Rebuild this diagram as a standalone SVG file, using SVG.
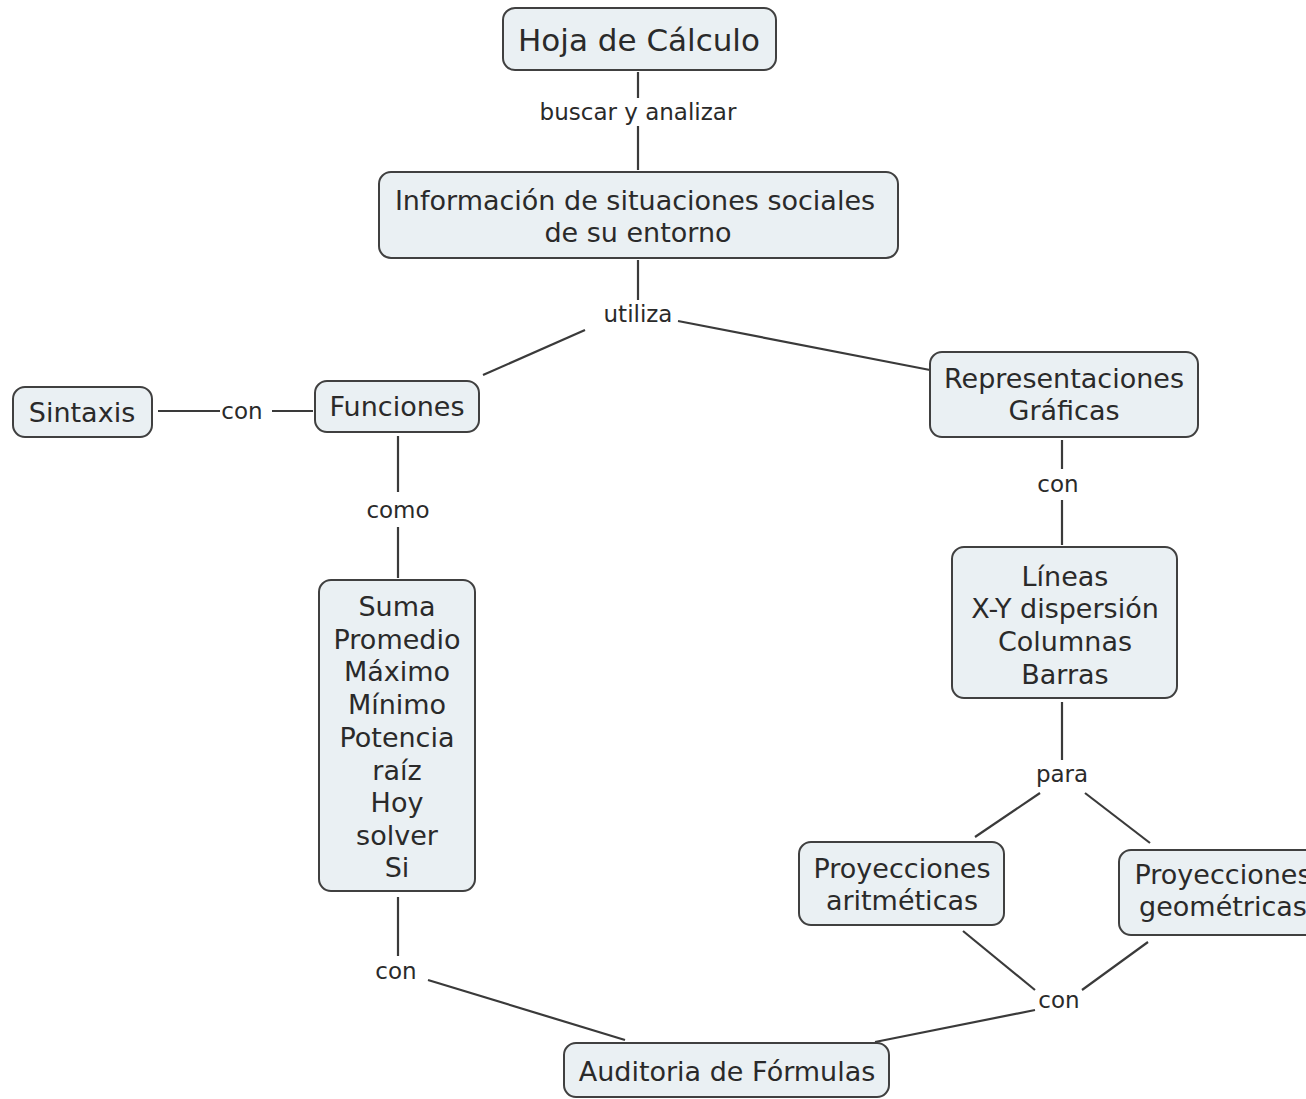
<svg xmlns="http://www.w3.org/2000/svg" width="1306" height="1099" viewBox="0 0 1306 1099">
<style>
.node rect{fill:#eaf0f3;stroke:#404040;stroke-width:2}
.node text{font-family:"DejaVu Sans",Verdana,sans-serif;font-size:27px;fill:#2a2a2a;text-anchor:middle;dominant-baseline:central}
.lbl{font-family:"DejaVu Sans",Verdana,sans-serif;font-size:23px;fill:#2a2a2a;text-anchor:middle;dominant-baseline:central}
.conn line{stroke:#3a3a3a;stroke-width:2.2}
</style>
<rect width="1306" height="1099" fill="#fff"/>
<g id="connectors" class="conn">
<line x1="638" y1="72" x2="638" y2="98"/>
<line x1="638" y1="126" x2="638" y2="170"/>
<line x1="638" y1="260" x2="638" y2="300"/>
<line x1="585" y1="330" x2="483" y2="375"/>
<line x1="678" y1="321" x2="930" y2="370"/>
<line x1="158" y1="411" x2="220" y2="411"/>
<line x1="272" y1="411" x2="313" y2="411"/>
<line x1="398" y1="436" x2="398" y2="492"/>
<line x1="398" y1="527" x2="398" y2="578"/>
<line x1="1062" y1="440" x2="1062" y2="469"/>
<line x1="1062" y1="500" x2="1062" y2="545"/>
<line x1="1062" y1="702" x2="1062" y2="760"/>
<line x1="1040" y1="793" x2="975" y2="837"/>
<line x1="1085" y1="793" x2="1150" y2="843"/>
<line x1="398" y1="897" x2="398" y2="956"/>
<line x1="428" y1="980" x2="625" y2="1040"/>
<line x1="963" y1="931" x2="1035" y2="990"/>
<line x1="1148" y1="942" x2="1082" y2="990"/>
<line x1="1035" y1="1010" x2="875" y2="1042"/>
<text class="lbl" x="638" y="112">buscar y analizar</text>
<text class="lbl" x="638" y="314">utiliza</text>
<text class="lbl" x="242" y="411">con</text>
<text class="lbl" x="398" y="510">como</text>
<text class="lbl" x="1058" y="484">con</text>
<text class="lbl" x="1062" y="774">para</text>
<text class="lbl" x="396" y="971">con</text>
<text class="lbl" x="1059" y="1000">con</text>
</g>
<g id="hoja" class="node"><rect x="503" y="8" width="273" height="62" rx="12"/><text x="639" y="40" style="font-size:31px">Hoja de Cálculo</text></g>
<g id="info" class="node"><rect x="379" y="172" width="519" height="86" rx="12"/><text x="635" y="200">Información de situaciones sociales</text><text x="638" y="232">de su entorno</text></g>
<g id="sintaxis" class="node"><rect x="13" y="387" width="139" height="50" rx="12"/><text x="82" y="412">Sintaxis</text></g>
<g id="funciones" class="node"><rect x="315" y="381" width="164" height="51" rx="12"/><text x="397" y="406">Funciones</text></g>
<g id="representaciones" class="node"><rect x="930" y="352" width="268" height="85" rx="12"/><text x="1064" y="378">Representaciones</text><text x="1064" y="410">Gráficas</text></g>
<g id="lineas" class="node"><rect x="952" y="547" width="225" height="151" rx="12"/><text x="1065" y="576">Líneas</text><text x="1065" y="608">X-Y dispersión</text><text x="1065" y="641">Columnas</text><text x="1065" y="674">Barras</text></g>
<g id="suma" class="node"><rect x="319" y="580" width="156" height="311" rx="12"/><text x="397" y="606">Suma</text><text x="397" y="639">Promedio</text><text x="397" y="671">Máximo</text><text x="397" y="704">Mínimo</text><text x="397" y="737">Potencia</text><text x="397" y="770">raíz</text><text x="397" y="802">Hoy</text><text x="397" y="835">solver</text><text x="397" y="867">Si</text></g>
<g id="aritmeticas" class="node"><rect x="799" y="842" width="205" height="83" rx="12"/><text x="902" y="868">Proyecciones</text><text x="902" y="900">aritméticas</text></g>
<g id="geometricas" class="node"><rect x="1119" y="850" width="205" height="85" rx="12"/><text x="1223" y="874">Proyecciones</text><text x="1223" y="906">geométricas</text></g>
<g id="auditoria" class="node"><rect x="564" y="1043" width="325" height="54" rx="12"/><text x="727" y="1071">Auditoria de Fórmulas</text></g>
</svg>
